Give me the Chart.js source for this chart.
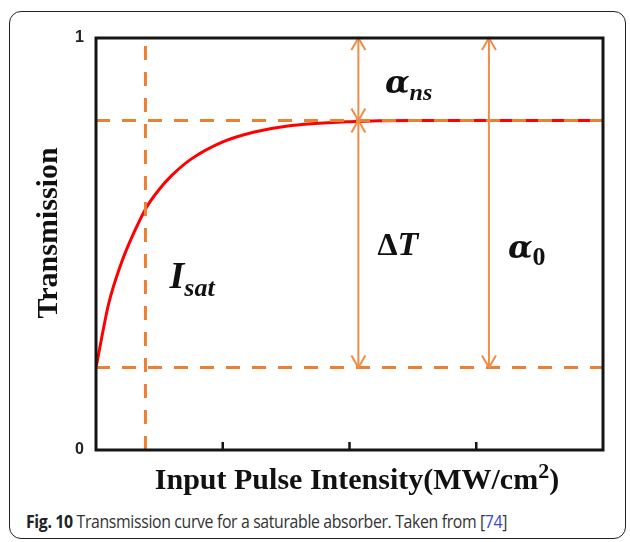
<!DOCTYPE html>
<html>
<head>
<meta charset="utf-8">
<script src="https://cdn.jsdelivr.net/npm/chart.js@4.4.1/dist/chart.umd.min.js"></script>
<style>
  html, body { margin: 0; padding: 0; background: #fff; }
  body { width: 630px; height: 542px; position: relative; overflow: hidden; }
  #frame { position: absolute; left: 9px; top: 11px; width: 615px; height: 526px; border: 1.5px solid #222; border-radius: 12px; }
  #wrap { position: absolute; left: 0; top: 0; width: 630px; height: 500px; }
  #caption { position: absolute; left: 26px; top: 509px; font: 18px "Open Sans", sans-serif; letter-spacing: -0.4px; color: #333; white-space: nowrap; transform: scaleX(0.88); transform-origin: left top; }
  #caption b { color: #222; }
  #caption .ref { color: #3546d8; }
</style>
</head>
<body>
<div id="frame"></div>
<div id="wrap"><canvas id="chart" width="630" height="500"></canvas></div>
<div id="caption"><b>Fig. 10</b> Transmission curve for a saturable absorber. Taken from [<span class="ref">74</span>]</div>
<script>
// curve
const intensity = [0, 0.1, 0.2, 0.3, 0.4, 0.5, 0.6, 0.75, 1.0, 1.25, 1.5, 2.0, 2.5, 3.0, 3.5, 4.0];
const transmission = [0.20, 0.355, 0.454, 0.528, 0.59, 0.633, 0.667, 0.706, 0.748, 0.772, 0.786, 0.797, 0.80, 0.80, 0.80, 0.80];

const xRange = [0, 4];
const yRange = [0, 1];
const xTickMarks = [1, 2, 3];

// guide levels
const saturatedLevel = 0.8;
const linearLevel = 0.2;
const isatValue = 0.39;

// double arrows: x position, from, to
const arrowX = [2.07, 2.07, 3.1];
const arrowFrom = [1, 0.8, 1];
const arrowTo = [0.8, 0.2, 0.2];

const ORANGE = 'rgb(237, 128, 48)';
const ARROW = 'rgb(240, 140, 70)';

function hLine(v) {
  return xRange.map(x => ({ x: x, y: v }));
}

const datasets = [
  {
    data: hLine(saturatedLevel),
    borderColor: ORANGE, borderWidth: 3, borderDash: [14, 12], pointRadius: 0
  },
  {
    data: hLine(linearLevel),
    borderColor: ORANGE, borderWidth: 3, borderDash: [14, 12], pointRadius: 0
  },
  {
    data: yRange.map(y => ({ x: isatValue, y: y })),
    borderColor: ORANGE, borderWidth: 3, borderDash: [14, 12], pointRadius: 0
  },
  {
    data: intensity.map((x, i) => ({ x: x, y: transmission[i] })),
    borderColor: '#ff0000', borderWidth: 3, pointRadius: 0,
    cubicInterpolationMode: 'monotone'
  }
];

function drawArrowHead(ctx, px, py, dir) {
  // dir = -1 points up, 1 points down
  ctx.beginPath();
  ctx.moveTo(px - 7, py - dir * 12);
  ctx.lineTo(px, py);
  ctx.lineTo(px + 7, py - dir * 12);
  ctx.stroke();
}

function mathText(ctx, parts, x, y) {
  // parts: [text, font, dy]
  let cx = x;
  parts.forEach(p => {
    ctx.font = p[1];
    ctx.fillText(p[0], cx, y + p[2]);
    cx += ctx.measureText(p[0]).width;
  });
}

const overlay = {
  id: 'overlay',
  afterDatasetsDraw(chart) {
    const { ctx, chartArea: a, scales: { x, y } } = chart;
    ctx.save();

    ctx.strokeStyle = ARROW;
    ctx.lineWidth = 2;
    arrowX.forEach((ax, i) => {
      const px = x.getPixelForValue(ax);
      const p1 = y.getPixelForValue(arrowFrom[i]);
      const p2 = y.getPixelForValue(arrowTo[i]);
      ctx.beginPath();
      ctx.moveTo(px, p1);
      ctx.lineTo(px, p2);
      ctx.stroke();
      drawArrowHead(ctx, px, p1, -1);
      drawArrowHead(ctx, px, p2, 1);
    });

    // box round the plot
    ctx.strokeStyle = '#151515';
    ctx.lineWidth = 3;
    ctx.strokeRect(a.left, a.top, a.width, a.height);
    ctx.lineWidth = 2.5;
    xTickMarks.forEach(v => {
      const px = x.getPixelForValue(v);
      ctx.beginPath();
      ctx.moveTo(px, a.bottom);
      ctx.lineTo(px, a.bottom - 8);
      ctx.stroke();
    });

    // labels
    ctx.fillStyle = '#111';
    ctx.textBaseline = 'alphabetic';
    ctx.textAlign = 'left';
    const alpha = 'bold italic 32px "DejaVu Serif"';
    const subBI = 'bold italic 24px "Liberation Serif"';
    mathText(ctx, [['\u03B1', alpha, 0], ['ns', subBI, 7]], x.getPixelForValue(2.28), y.getPixelForValue(0.866));
    mathText(ctx, [['\u0394', 'bold 32px "Liberation Serif"', 0], ['T', 'bold italic 34px "Liberation Serif"', 0]], x.getPixelForValue(2.22), y.getPixelForValue(0.473));
    mathText(ctx, [['\u03B1', alpha, 0], ['0', 'bold 26px "Liberation Serif"', 7]], x.getPixelForValue(3.25), y.getPixelForValue(0.466));
    mathText(ctx, [['I', 'bold italic 38px "Liberation Serif"', 0], ['sat', 'bold italic 26px "Liberation Serif"', 8]], x.getPixelForValue(0.58), y.getPixelForValue(0.393));

    // axis titles
    ctx.font = 'bold 30px "Liberation Serif"';
    const main = 'Input Pulse Intensity(MW/cm';
    const wMain = ctx.measureText(main).width;
    const wParen = ctx.measureText(')').width;
    ctx.font = 'bold 22px "Liberation Serif"';
    const wSup = ctx.measureText('2').width;
    let tx = 357 - (wMain + wSup + wParen) / 2;
    mathText(ctx, [[main, 'bold 30px "Liberation Serif"', 0], ['2', 'bold 22px "Liberation Serif"', -11], [')', 'bold 30px "Liberation Serif"', 0]], tx, 489);

    ctx.translate(57, 233);
    ctx.rotate(-Math.PI / 2);
    ctx.textAlign = 'center';
    ctx.font = 'bold 30px "Liberation Serif"';
    ctx.fillText('Transmission', 0, 0);
    ctx.restore();
  }
};

new Chart(document.getElementById('chart'), {
  type: 'line',
  data: { datasets: datasets },
  options: {
    responsive: false,
    animation: false,
    layout: { padding: { left: 0, top: 38, right: 27, bottom: 50 } },
    plugins: { legend: { display: false }, tooltip: { enabled: false } },
    scales: {
      x: {
        type: 'linear', min: xRange[0], max: xRange[1],
        grid: { display: false, drawTicks: false },
        border: { display: false },
        ticks: { display: false },
        afterFit: s => { s.height = 0; }
      },
      y: {
        min: yRange[0], max: yRange[1],
        grid: { display: false, drawTicks: false },
        border: { display: false },
        ticks: {
          stepSize: 1, padding: 12, color: '#222',
          font: { family: '"Liberation Sans", Arial, sans-serif', size: 16, weight: 'bold' }
        },
        afterFit: s => { s.width = 96; }
      }
    }
  },
  plugins: [overlay]
});
</script>
</body>
</html>
